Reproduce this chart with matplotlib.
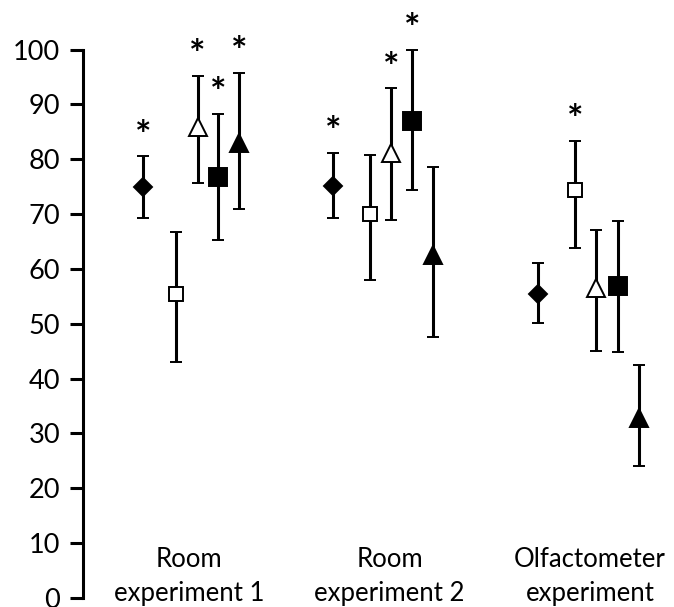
import numpy as np
import matplotlib.pyplot as plt

# grupos no eixo x
groups = ["Room\nexperiment 1", "Room\nexperiment 2", "Olfactometer\nexperiment"]

# médias e limites das barras de erro
diamond_mean = [74.9, 75.2, 55.5]
diamond_low = [69.2, 69.2, 50.1]
diamond_high = [80.5, 81.1, 61.0]
diamond_sig = [True, True, False]

osquare_mean = [55.5, 70.1, 74.3]
osquare_low = [43.1, 58.0, 63.9]
osquare_high = [66.7, 80.8, 83.4]
osquare_sig = [False, False, True]

otri_mean = [85.9, 81.1, 56.5]
otri_low = [75.7, 68.9, 45.1]
otri_high = [95.2, 92.9, 67.1]
otri_sig = [True, True, False]

fsquare_mean = [76.7, 87.0, 56.9]
fsquare_low = [65.3, 74.3, 44.9]
fsquare_high = [88.2, 100.0, 68.7]
fsquare_sig = [True, True, False]

ftri_mean = [82.9, 62.5, 32.8]
ftri_low = [70.9, 47.5, 24.1]
ftri_high = [95.8, 78.6, 42.4]
ftri_sig = [True, False, False]

yticks = list(range(0, 101, 10))

# deslocamento horizontal de cada série dentro do grupo
x_offsets = [
    [-0.228, -0.283, -0.261],
    [-0.066, -0.097, -0.073],
    [0.043, 0.007, 0.030],
    [0.146, 0.111, 0.138],
    [0.249, 0.219, 0.244],
]

series = [
    (diamond_mean, diamond_low, diamond_high, diamond_sig, "D", 9.6, "black"),
    (osquare_mean, osquare_low, osquare_high, osquare_sig, "s", 10.5, "white"),
    (otri_mean, otri_low, otri_high, otri_sig, "^", 13, "white"),
    (fsquare_mean, fsquare_low, fsquare_high, fsquare_sig, "s", 12.5, "black"),
    (ftri_mean, ftri_low, ftri_high, ftri_sig, "^", 13, "black"),
]

plt.rcParams['font.family'] = ['Lato', 'DejaVu Sans']

fig = plt.figure(figsize=(6.74, 6.07), dpi=100)
ax = fig.add_axes([83 / 674, 9 / 607, 591 / 674, 548.5 / 607])

for k, (mean, low, high, sig, mk, ms, fc) in enumerate(series):
    x = np.arange(len(groups)) + np.array(x_offsets[k])
    mean = np.array(mean)
    yerr = [mean - np.array(low), np.array(high) - mean]
    ax.errorbar(x, mean, yerr=yerr, fmt=mk, ms=ms, mfc=fc, mec="black", mew=1.4,
                ecolor="black", elinewidth=2.2, capsize=4.4, capthick=2.2, clip_on=False)
    for xi, hi, s in zip(x, high, sig):
        if s:
            ax.text(xi, hi + 1.6, "*", ha="center", va="baseline", fontsize=28,
                    fontweight="bold", clip_on=False)

for i, g in enumerate(groups):
    ax.text(i, 3.9, g, ha="center", va="center", fontsize=18.5, linespacing=1.45)

ax.set_xlim(-0.5287, 2.419)
ax.set_ylim(0, 100)
ax.set_yticks(yticks)
ax.set_xticks([])
ax.spines[["top", "right", "bottom"]].set_visible(False)
ax.spines["left"].set_linewidth(2.2)
ax.tick_params(axis="y", length=9.5, width=2.2, pad=7, labelsize=19.5)

plt.savefig("out.png", dpi=100)
